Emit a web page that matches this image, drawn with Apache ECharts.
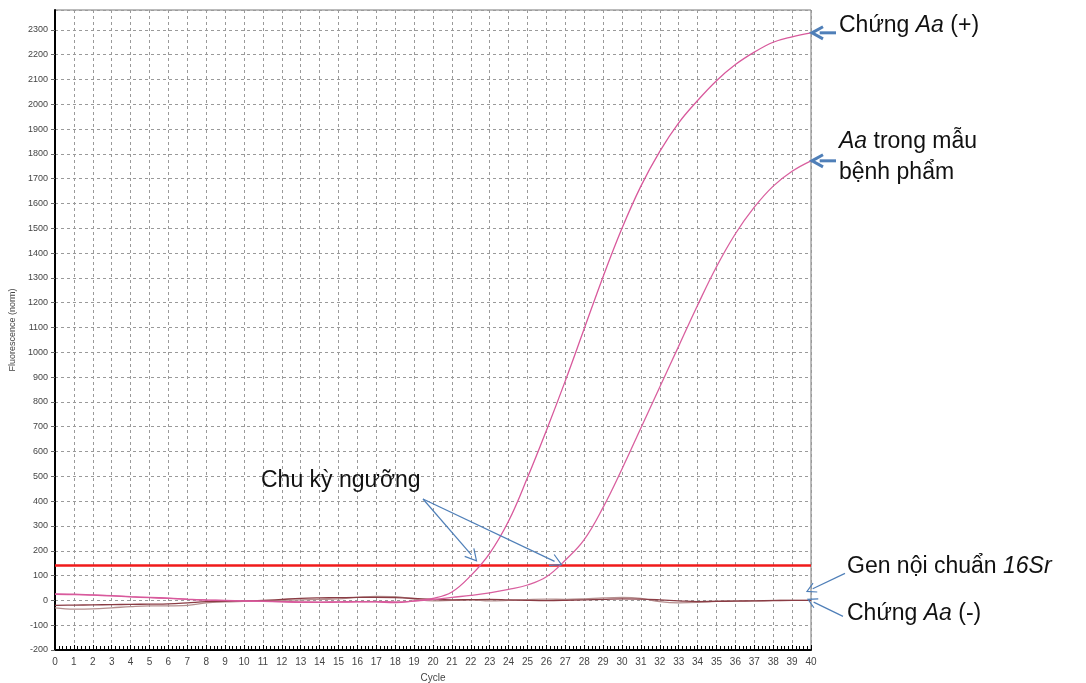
<!DOCTYPE html>
<html>
<head>
<meta charset="utf-8">
<script src="https://cdn.jsdelivr.net/npm/echarts@6/dist/echarts.min.js"></script>
<style>
html,body{margin:0;padding:0;background:#fff;}
#chart{width:1086px;height:683px;}
</style>
</head>
<body>
<div id="chart"></div>
<script>
// ---- data ----
const cycles = [0,1,2,3,4,5,6,7,8,9,10,11,12,13,14,15,16,17,18,19,20,21,22,23,24,25,26,27,28,29,30,31,32,33,34,35,36,37,38,39,40];
const posControl = [26,25,22,19,15,12,9,5,2,0,-2,-3,-5,-6,-7,-6,-5,-6,-9,-2,8,34,100,190,320,495,685,885,1095,1305,1500,1670,1810,1925,2015,2095,2160,2210,2250,2272,2288];
const sample = [24,23,21,18,14,11,8,4,1,-1,-3,-4,-6,-8,-8,-7,-6,-5,-6,-3,3,12,20,30,44,62,95,162,245,375,530,695,860,1025,1190,1345,1478,1585,1670,1730,1772];
const internal16Sr = [-20,-19,-18,-17,-16,-15,-14,-10,-5,-4,-2,0,4,8,10,11,12,12,11,8,4,2,3,4,2,0,-1,0,2,4,6,5,2,-2,-5,-4,-3,-2,-1,0,0];
const negControl = [-30,-35,-34,-30,-25,-22,-22,-20,-10,-6,-4,-2,0,2,4,6,12,16,15,5,-2,0,2,-2,0,3,5,4,6,10,12,8,-5,-10,-8,-3,-2,-2,0,0,0];
const threshold = 140;
const yTicks = {min:-200, max:2380, step:100};
const xTicks = {min:0, max:40, step:1};
const axisNames = {x:'Cycle', y:'Fluorescence (norm)'};

const pair = arr => cycles.map((c,i)=>[c, arr[i]]);
const FONT = '"Liberation Sans", Arial, sans-serif';

const chart = echarts.init(document.getElementById('chart'), null, {renderer:'canvas'});

const lineSeries = (name, arr, color, z) => ({
  name, type:'line', data: pair(arr), showSymbol:false, smooth:0.4,
  lineStyle:{color, width:1.3}, z, silent:true, animation:false
});

chart.setOption({
  animation:false,
  backgroundColor:'#fff',
  grid:{left:55, right:275, top:10, bottom:33, show:true, borderColor:'#777', borderWidth:1,
        containLabel:false, outerBoundsMode:'none'},
  xAxis:{
    type:'value', min:xTicks.min, max:xTicks.max, interval:xTicks.step,
    name:axisNames.x, nameLocation:'middle', nameGap:23,
    nameTextStyle:{fontFamily:FONT, fontSize:10, color:'#444'},
    axisLine:{show:true, onZero:false, lineStyle:{color:'#000', width:2}},
    axisTick:{show:true, inside:true, length:5, lineStyle:{color:'#000'}},
    minorTick:{show:true, splitNumber:5, length:4, lineStyle:{color:'#000'}},
    axisLabel:{fontFamily:FONT, fontSize:10, color:'#444', margin:7},
    splitLine:{show:true, lineStyle:{color:'#9a9a9a', type:[3,3], width:1}}
  },
  yAxis:{
    type:'value', min:yTicks.min, max:yTicks.max, interval:yTicks.step,
    name:axisNames.y, nameLocation:'middle', nameGap:37,
    nameTextStyle:{fontFamily:FONT, fontSize:9, color:'#444'},
    axisLine:{show:true, onZero:false, lineStyle:{color:'#000', width:2}},
    axisTick:{show:true, inside:false, length:4, lineStyle:{color:'#666'}},
    axisLabel:{fontFamily:FONT, fontSize:9, color:'#444', margin:7, showMaxLabel:false,
      formatter: v => (v % 100 === 0 ? String(v) : '')},
    splitLine:{show:true, lineStyle:{color:'#9a9a9a', type:[3,3], width:1}}
  },
  series:[
    lineSeries('Chứng Aa (-)', negControl, '#b58f8f', 3),
    lineSeries('Gen nội chuẩn 16Sr', internal16Sr, '#8a3c44', 4),
    lineSeries('Aa trong mẫu bệnh phẩm', sample, '#d9609f', 5),
    Object.assign(lineSeries('Chứng Aa (+)', posControl, '#d8599c', 6), {
      markLine:{symbol:'none', silent:true, animation:false, label:{show:false},
        lineStyle:{color:'#f01a1a', width:2.5, type:'solid'}, data:[{yAxis:threshold}]}
    })
  ]
});

// ---- annotations ----
const ARROW = '#4f7fb8';
function arrow(x1,y1,x2,y2,w,head){
  const ang = Math.atan2(y2-y1, x2-x1);
  const hl = head, hw = head*0.55;
  const bx = x2 - hl*Math.cos(ang), by = y2 - hl*Math.sin(ang);
  const nx = -Math.sin(ang), ny = Math.cos(ang);
  return [
    {type:'line', shape:{x1, y1, x2:bx+ (x2-bx)*0.3, y2:by+(y2-by)*0.3}, style:{stroke:ARROW, lineWidth:w}, z:100},
    {type:'polyline', shape:{points:[[bx+nx*hw, by+ny*hw],[x2,y2],[bx-nx*hw, by-ny*hw]]}, style:{stroke:ARROW, lineWidth:w, fill:null}, z:100}
  ];
}
function richText(x, y, parts){
  const text = parts.map(p => `{${p[1]}|${p[0]}}`).join('');
  return {type:'text', x, y, z:101, style:{text, verticalAlign:'middle', align:'left',
    rich:{
      n:{fontFamily:FONT, fontSize:23, fill:'#111'},
      i:{fontFamily:FONT, fontSize:23, fill:'#111', fontStyle:'italic'}
    }}};
}
const px = (c,v) => chart.convertToPixel({gridIndex:0}, [c,v]);
const lastC = cycles[cycles.length-1];
const pEnd = px(lastC, posControl[posControl.length-1]);
const sEnd = px(lastC, sample[sample.length-1]);
const iEnd = px(lastC, internal16Sr[internal16Sr.length-1]);
const t1 = px(22.3, threshold+20);
const t2 = px(26.8, threshold+4);

const g = [];
g.push(...arrow(pEnd[0]+25, pEnd[1], pEnd[0]+1, pEnd[1], 3, 11));
g.push(...arrow(sEnd[0]+25, sEnd[1], sEnd[0]+1, sEnd[1], 3, 11));
g.push(...arrow(iEnd[0]+34, iEnd[1]-27, iEnd[0]-4, iEnd[1]-9, 1.2, 9));
g.push(...arrow(iEnd[0]+32, iEnd[1]+16, iEnd[0]-3, iEnd[1]-1, 1.2, 9));
g.push(...arrow(423, 499, t1[0], t1[1], 1.2, 11));
g.push(...arrow(423, 499, t2[0], t2[1], 1.2, 11));
g.push(richText(839, 26, [['Chứng ','n'],['Aa','i'],[' (+)','n']]));
g.push(richText(839, 142, [['Aa','i'],[' trong mẫu','n']]));
g.push(richText(839, 173, [['bệnh phẩm','n']]));
g.push(richText(847, 567, [['Gen nội chuẩn ','n'],['16Sr','i']]));
g.push(richText(847, 614, [['Chứng ','n'],['Aa','i'],[' (-)','n']]));
g.push(richText(261, 481, [['Chu kỳ ngưỡng','n']]));
chart.setOption({graphic:g});
</script>
</body>
</html>
